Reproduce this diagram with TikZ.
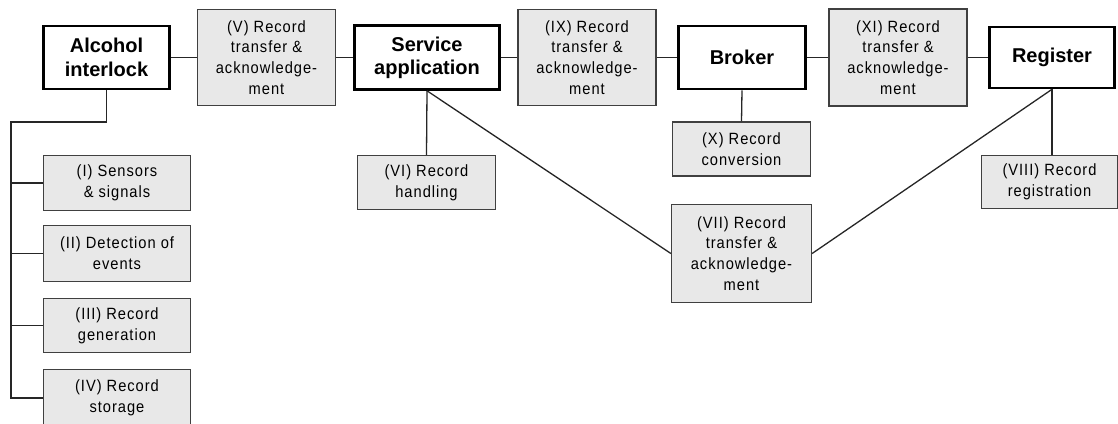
\documentclass[tikz,border=0pt]{standalone}
\usepackage{fontspec}
\setmainfont{Liberation Sans}
\newfontfamily\taskfont[LetterSpace=6,FakeStretch=0.9]{Liberation Sans}

\begin{document}
\begin{tikzpicture}[
  x=1pt, y=-1pt,
  main/.style={rectangle, draw=black, line width=2.6pt, fill=white, align=center,
               inner sep=0pt, font=\fontsize{20}{23.3}\selectfont\bfseries},
  task/.style={rectangle, draw=black!75, line width=1.2pt, fill=black!9, align=center,
               inner sep=0pt, minimum width=138pt, font=\taskfont\fontsize{16.3}{20.7}\selectfont},
  link/.style={draw=black!85, line width=1.3pt},
]
\useasboundingbox (0,0) rectangle (1118,423);

\node[main, minimum width=126pt, minimum height=63pt] (alc)  at (106.5,57.5) {Alcohol\\interlock};
\node[main, minimum width=145pt, minimum height=64pt] (serv) at (427,57.5)   {Service\\application};
\node[main, minimum width=127pt, minimum height=63pt] (brok) at (742,57.5)   {Broker};
\node[main, minimum width=125pt, minimum height=61pt] (reg)  at (1052,57.5)  {Register};

\node[task, minimum height=96pt] (v)  at (266.5,57.5) {(V) Record\\transfer \&\\acknowledge-\\ment};
\node[task, minimum height=96pt] (ix) at (587,57.5)   {(IX) Record\\transfer \&\\acknowledge-\\ment};
\node[task, minimum height=97pt] (xi) at (898,57.5)   {(XI) Record\\transfer \&\\acknowledge-\\ment};

\node[task, minimum height=54pt] (x)    at (741.5,149)   {(X) Record\\conversion};
\node[task, minimum height=54pt] (vi)   at (426.5,182.5) {(VI) Record\\handling};
\node[task, minimum width=136pt, minimum height=53pt] (viii) at (1049.5,182) {(VIII) Record\\registration};
\node[task, minimum width=140pt, minimum height=98pt] (vii)  at (741.5,253.5) {(VII) Record\\transfer \&\\acknowledge-\\ment};

\node[task, minimum width=147pt, minimum height=55pt] (i)   at (117,183)   {(I) Sensors\\\& signals};
\node[task, minimum width=147pt, minimum height=56pt] (ii)  at (117,253.5) {(II) Detection of\\events};
\node[task, minimum width=147pt, minimum height=54pt] (iii) at (117,325.5) {(III) Record\\generation};
\node[task, minimum width=147pt, minimum height=57pt] (iv)  at (117,398)   {(IV) Record\\storage};

\coordinate (rail) at (11,122);

\draw[link] (alc) -- (v);
\draw[link] (v) -- (serv);
\draw[link] (serv) -- (ix);
\draw[link] (ix) -- (brok);
\draw[link] (brok) -- (xi);
\draw[link] (xi) -- (reg);

\draw[link] (brok.south) -- (x.north);
\draw[link] (serv.south) -- (vi.north);
\draw[link] (serv.south) -- (vii.west);
\draw[link] (reg.south) -- (vii.east);
\draw[link] (reg.south) -- (reg.south |- viii.north);

\draw[link] (alc.south) |- (rail) -- (rail |- iv.west) -- (iv.west);
\foreach \t in {i,ii,iii}
  \draw[link] (rail |- \t.west) -- (\t.west);

\end{tikzpicture}
\end{document}
